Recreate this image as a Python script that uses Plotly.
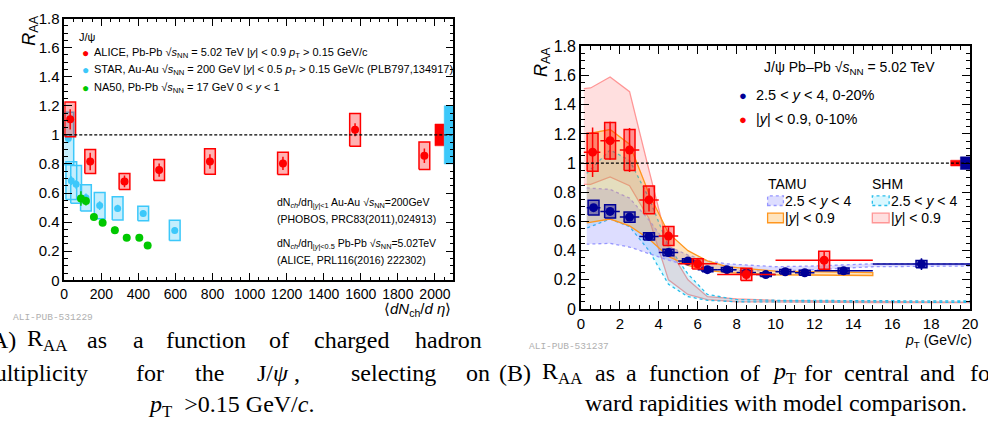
import plotly.graph_objects as go

W, H = 988, 435
SANS = "Liberation Sans"
SERIF = "Liberation Serif"


def px(x):
    return x / W


def py(y):
    return 1 - y / H


# ---------------- Left panel: R_AA vs <dNch/deta> ----------------
alice_nch = [32, 140, 325, 512, 786, 1180, 1569, 1943]
alice_raa = [1.107, 0.817, 0.68, 0.758, 0.817, 0.804, 1.035, 0.857]
alice_stat = [0.07, 0.06, 0.04, 0.045, 0.05, 0.045, 0.045, 0.05]
alice_sys = [0.12, 0.083, 0.055, 0.072, 0.087, 0.076, 0.113, 0.095]

star_nch = [22, 38, 64, 117, 191, 288, 426, 596]
star_raa = [0.975, 0.685, 0.66, 0.567, 0.514, 0.494, 0.46, 0.343]
star_stat = [0.03, 0.03, 0.03, 0.03, 0.03, 0.025, 0.02, 0.02]
star_sys = [0.18, 0.13, 0.13, 0.09, 0.09, 0.08, 0.05, 0.07]

na50_nch = [90, 117, 160, 207, 273, 337, 405, 450]
na50_raa = [0.563, 0.545, 0.435, 0.395, 0.345, 0.292, 0.292, 0.24]
na50_stat = [0.05, 0.03, 0.015, 0.015, 0.025, 0.015, 0.015, 0.015]

glob_left_lo = [2000, 2050]
glob_left_hi = [2050, 2100]
glob_left_unc = [0.075, 0.2]

# ---------------- Right panel: R_AA vs pT ----------------
fwd_pt = [0.65, 1.5, 2.5, 3.5, 4.5, 5.5, 6.5, 7.5, 8.5, 9.5, 10.5, 11.5, 13.5, 17.5]
fwd_lo = [0.3, 1, 2, 3, 4, 5, 6, 7, 8, 9, 10, 11, 12, 15]
fwd_hi = [1, 2, 3, 4, 5, 6, 7, 8, 9, 10, 11, 12, 15, 20]
fwd_raa = [0.695, 0.669, 0.63, 0.498, 0.387, 0.33, 0.27, 0.27, 0.25, 0.236, 0.256, 0.249, 0.262, 0.308]
fwd_stat = [0.02, 0.015, 0.015, 0.01, 0.01, 0.01, 0.01, 0.01, 0.01, 0.012, 0.012, 0.015, 0.02, 0.04]
fwd_sys = [0.05, 0.045, 0.035, 0.025, 0.022, 0.015, 0.015, 0.015, 0.015, 0.013, 0.015, 0.017, 0.02, 0.025]

mid_pt = [0.6, 1.5, 2.5, 3.5, 4.5, 6.0, 8.5, 12.5]
mid_lo = [0.15, 1, 2, 3, 4, 5, 7, 10]
mid_hi = [1, 2, 3, 4, 5, 7, 10, 15]
mid_raa = [1.075, 1.154, 1.09, 0.748, 0.5, 0.31, 0.237, 0.334]
mid_stat = [0.17, 0.13, 0.15, 0.08, 0.06, 0.03, 0.04, 0.06]
mid_sys = [0.13, 0.125, 0.14, 0.095, 0.065, 0.035, 0.042, 0.062]

glob_right_lo = [19.0, 19.5]
glob_right_hi = [19.5, 20.0]
glob_right_unc = [0.02, 0.043]

shm_mid_pt = [0.15, 0.5, 1.5, 2.5, 3.5, 4.5, 5.5, 6.5, 8, 10, 15, 20]
shm_mid_up = [1.51, 1.515, 1.59, 1.49, 0.95, 0.42, 0.2, 0.085, 0.07, 0.06, 0.052, 0.05]
shm_mid_dn = [0.855, 0.855, 0.905, 0.845, 0.62, 0.2, 0.1, 0.065, 0.05, 0.045, 0.045, 0.045]

shm_fwd_pt = [0.3, 1.5, 2.5, 3.5, 4.5, 5.5, 6.5, 8, 10, 15, 20]
shm_fwd_up = [0.93, 1.09, 1.02, 0.76, 0.43, 0.24, 0.1, 0.065, 0.06, 0.055, 0.055]
shm_fwd_dn = [0.555, 0.617, 0.565, 0.4, 0.17, 0.085, 0.06, 0.05, 0.045, 0.045, 0.045]

tamu_fwd_pt = [0.3, 1.5, 2.5, 3.5, 4.5, 5.5, 6.5, 7.5, 10, 12, 15, 20]
tamu_fwd_up = [0.83, 0.82, 0.76, 0.61, 0.43, 0.37, 0.33, 0.31, 0.29, 0.295, 0.31, 0.31]
tamu_fwd_dn = [0.445, 0.45, 0.425, 0.38, 0.335, 0.3, 0.275, 0.265, 0.26, 0.27, 0.29, 0.295]

tamu_mid_pt = [0.3, 1.5, 2.5, 3.5, 4.5, 5.5, 6.5, 7.5, 10, 15]
tamu_mid_up = [1.2, 1.23, 1.13, 0.79, 0.52, 0.4, 0.33, 0.29, 0.26, 0.25]
tamu_mid_dn = [0.59, 0.617, 0.57, 0.48, 0.36, 0.3, 0.265, 0.25, 0.235, 0.23]

UNITY = 1.0

# style constants
BOX_HW_LEFT = 29
BOX_HW_RIGHT = 0.28
RED = "#ff0000"
SKY = "rgb(60,200,250)"
GREEN = "rgb(0,200,0)"
NAVY = "rgb(0,0,150)"


def box_path(xc, yc, hw, hh):
    xs, ys = [], []
    for x, y, h in zip(xc, yc, hh):
        xs += [x - hw, x + hw, x + hw, x - hw, x - hw, None]
        ys += [y - h, y - h, y + h, y + h, y - h, None]
    return xs, ys


def rect_path(x0s, x1s, unc):
    xs, ys = [], []
    for a, b, u in zip(x0s, x1s, unc):
        xs += [a, b, b, a, a, None]
        ys += [UNITY - u, UNITY - u, UNITY + u, UNITY + u, UNITY - u, None]
    return xs, ys


def band(x, up, dn):
    return list(x) + list(x)[::-1], list(up) + list(dn)[::-1]


fig = go.Figure()

# ---- left panel traces ----
bx, by = box_path(star_nch, star_raa, BOX_HW_LEFT, star_sys)
fig.add_trace(go.Scatter(x=bx, y=by, mode="lines", fill="toself", fillcolor="rgba(60,200,250,0.3)",
                         line=dict(color=SKY, width=1.5), xaxis="x", yaxis="y", hoverinfo="skip"))
fig.add_trace(go.Scatter(x=star_nch, y=star_raa, mode="markers", marker=dict(color=SKY, size=7),
                         error_y=dict(type="data", array=star_stat, color=SKY, thickness=1.5, width=0),
                         xaxis="x", yaxis="y"))
fig.add_trace(go.Scatter(x=na50_nch, y=na50_raa, mode="markers", marker=dict(color=GREEN, size=8),
                         error_y=dict(type="data", array=na50_stat, color=GREEN, thickness=1.5, width=0),
                         xaxis="x", yaxis="y"))
bx, by = box_path(alice_nch, alice_raa, BOX_HW_LEFT, alice_sys)
fig.add_trace(go.Scatter(x=bx, y=by, mode="lines", fill="toself", fillcolor="rgba(255,0,0,0.3)",
                         line=dict(color=RED, width=1.5), xaxis="x", yaxis="y", hoverinfo="skip"))
fig.add_trace(go.Scatter(x=alice_nch, y=alice_raa, mode="markers", marker=dict(color=RED, size=8),
                         error_y=dict(type="data", array=alice_stat, color=RED, thickness=1.5, width=0),
                         xaxis="x", yaxis="y"))
for i, col in enumerate([RED, SKY]):
    gx, gy = rect_path(glob_left_lo[i:i + 1], glob_left_hi[i:i + 1], glob_left_unc[i:i + 1])
    fig.add_trace(go.Scatter(x=gx, y=gy, mode="lines", fill="toself", fillcolor=col,
                             line=dict(color=col, width=0.5), xaxis="x", yaxis="y"))

# ---- right panel traces ----
bands = [
    (shm_mid_pt, shm_mid_up, shm_mid_dn, "rgba(255,150,150,0.3)", "rgb(255,150,150)", "solid"),
    (shm_fwd_pt, shm_fwd_up, shm_fwd_dn, "rgba(0,200,255,0.15)", "rgb(40,190,235)", "dot"),
    (tamu_fwd_pt, tamu_fwd_up, tamu_fwd_dn, "rgba(120,120,255,0.25)", "rgb(150,150,255)", "dot"),
    (tamu_mid_pt, tamu_mid_up, tamu_mid_dn, "rgba(255,165,40,0.3)", "rgb(255,150,30)", "solid"),
]
for xs, up, dn, fc, lc, dash in bands:
    bxs, bys = band(xs, up, dn)
    fig.add_trace(go.Scatter(x=bxs, y=bys, mode="lines", fill="toself", fillcolor=fc,
                             line=dict(color=lc, width=1.3, dash=dash), xaxis="x2", yaxis="y2"))

for i, col in enumerate([RED, NAVY]):
    gx, gy = rect_path(glob_right_lo[i:i + 1], glob_right_hi[i:i + 1], glob_right_unc[i:i + 1])
    fig.add_trace(go.Scatter(x=gx, y=gy, mode="lines", fill="toself", fillcolor=col,
                             line=dict(color=col, width=0.5), xaxis="x2", yaxis="y2"))

bx, by = box_path(fwd_pt, fwd_raa, BOX_HW_RIGHT, fwd_sys)
fig.add_trace(go.Scatter(x=bx, y=by, mode="lines", fill="toself", fillcolor="rgba(0,0,150,0.4)",
                         line=dict(color=NAVY, width=1.5), xaxis="x2", yaxis="y2"))
fig.add_trace(go.Scatter(x=fwd_pt, y=fwd_raa, mode="markers", marker=dict(color=NAVY, size=9),
                         error_y=dict(type="data", array=fwd_stat, color=NAVY, thickness=1.5, width=0),
                         error_x=dict(type="data", array=[h - p for h, p in zip(fwd_hi, fwd_pt)],
                                      arrayminus=[p - l for p, l in zip(fwd_pt, fwd_lo)],
                                      color=NAVY, thickness=1.5, width=0),
                         xaxis="x2", yaxis="y2"))
bx, by = box_path(mid_pt, mid_raa, BOX_HW_RIGHT, mid_sys)
fig.add_trace(go.Scatter(x=bx, y=by, mode="lines", fill="toself", fillcolor="rgba(255,0,0,0.35)",
                         line=dict(color=RED, width=1.5), xaxis="x2", yaxis="y2"))
fig.add_trace(go.Scatter(x=mid_pt, y=mid_raa, mode="markers", marker=dict(color=RED, size=9),
                         error_y=dict(type="data", array=mid_stat, color=RED, thickness=1.5, width=0),
                         error_x=dict(type="data", array=[h - p for h, p in zip(mid_hi, mid_pt)],
                                      arrayminus=[p - l for p, l in zip(mid_pt, mid_lo)],
                                      color=RED, thickness=1.5, width=0),
                         xaxis="x2", yaxis="y2"))


# ---- axes ----
def axis(domain, rng, dtick, mdtick, size, anchor):
    return dict(domain=domain, range=rng, autorange=False, dtick=dtick, tick0=0,
                showline=True, linecolor="black", linewidth=1.5, mirror="allticks",
                ticks="inside", ticklen=8, tickwidth=1.3, tickcolor="black",
                showgrid=False, zeroline=False, anchor=anchor,
                tickfont=dict(family=SANS, size=size, color="black"),
                minor=dict(ticks="inside", ticklen=4, tickwidth=1.2, tickcolor="black",
                           dtick=mdtick, showgrid=False))


fig.update_layout(
    width=W, height=H, margin=dict(l=0, r=0, t=0, b=0),
    paper_bgcolor="white", plot_bgcolor="white", showlegend=False,
    xaxis=axis([px(61), px(455)], [0, 2100], 200, 50, 14, "y"),
    yaxis=axis([py(283), py(10)], [0, 1.8], 0.2, 0.05, 15, "x"),
    xaxis2=axis([px(584), px(978)], [0, 20], 2, 0.5, 15, "y2"),
    yaxis2=axis([py(313), py(39)], [0, 1.8], 0.2, 0.05, 16, "x2"),
)

fig.add_shape(type="line", xref="x domain", yref="y", x0=0, x1=1, y0=UNITY, y1=UNITY,
              line=dict(color="black", width=1.2, dash="3px,2px"))
fig.add_shape(type="line", xref="x2 domain", yref="y2", x0=0, x1=1, y0=UNITY, y1=UNITY,
              line=dict(color="black", width=1.2, dash="3px,2px"))

annotations = []


def ann(text, x, y, size, xanchor="left", color="black", family=SANS, **kw):
    annotations.append(dict(text=text, x=px(x), y=py(y), xref="paper", yref="paper",
                            xanchor=xanchor, yanchor="middle", showarrow=False,
                            font=dict(family=family, size=size, color=color), **kw))


# axis titles
ann("<i>R</i><sub>AA</sub>", 26, 23, 18, xanchor="center", textangle=-90)
ann("<i>R</i><sub>AA</sub>", 545, 55, 18, xanchor="center", textangle=-90)
ann("⟨<i>dN</i><sub>ch</sub>/<i>d η</i>⟩", 455, 313, 15, xanchor="right")
ann("<i>p</i><sub>T</sub> (GeV/c)", 982, 346, 14, xanchor="right")

# left legend
ann("J/ψ", 74, 29, 11)
ann("●", 82, 46, 12, xanchor="center", color=RED)
ann("●", 82, 64, 12, xanchor="center", color=SKY)
ann("●", 82, 82, 12, xanchor="center", color=GREEN)
ann("ALICE, Pb-Pb √<i>s</i><sub>NN</sub> = 5.02 TeV |<i>y</i>| &lt; 0.9 <i>p</i><sub>T</sub> &gt; 0.15 GeV/c", 89, 46, 11)
ann("STAR, Au-Au √<i>s</i><sub>NN</sub> = 200 GeV |<i>y</i>| &lt; 0.5 <i>p</i><sub>T</sub> &gt; 0.15 GeV/c (PLB797,134917)", 89, 64, 11)
ann("NA50, Pb-Pb √<i>s</i><sub>NN</sub> = 17 GeV 0 &lt; <i>y</i> &lt; 1", 89, 82, 11)

ann("dN<sub><i>ch</i></sub>/dη<sub>|<i>y</i>|&lt;1</sub> Au-Au √<i>s</i><sub>NN</sub>=200GeV", 274, 202, 10.5)
ann("(PHOBOS, PRC83(2011),024913)", 274, 219, 10.5)
ann("dN<sub><i>ch</i></sub>/dη<sub>|<i>y</i>|&lt;0.5</sub> Pb-Pb √<i>s</i><sub>NN</sub>=5.02TeV", 274, 245, 10.5)
ann("(ALICE, PRL116(2016) 222302)", 274, 262, 10.5)

# right legend
ann("J/ψ Pb–Pb √<i>s</i><sub>NN</sub> = 5.02 TeV", 767, 62, 14)
ann("●", 748, 90, 13, xanchor="center", color=NAVY)
ann("●", 748, 115, 13, xanchor="center", color=RED)
ann("2.5 &lt; <i>y</i> &lt; 4, 0-20%", 759, 90, 14.5)
ann("|<i>y</i>| &lt; 0.9, 0-10%", 759, 115, 14.5)
ann("TAMU", 771, 183, 14)
ann("SHM", 877, 183, 14)
ann("2.5 &lt; <i>y</i> &lt; 4", 789, 200, 14)
ann("|<i>y</i>| &lt; 0.9", 789, 218, 14)
ann("2.5 &lt; <i>y</i> &lt; 4", 896, 200, 14)
ann("|<i>y</i>| &lt; 0.9", 896, 218, 14)

legend_boxes = [
    (773, 789, 195, 205, "rgba(120,120,255,0.25)", "rgb(150,150,255)", "dot"),
    (773, 789, 213, 223, "rgba(255,165,40,0.3)", "rgb(255,150,30)", "solid"),
    (879, 896, 195, 205, "rgba(0,200,255,0.15)", "rgb(40,190,235)", "dot"),
    (879, 896, 213, 223, "rgba(255,150,150,0.3)", "rgb(255,150,150)", "solid"),
]
for x0, x1, y0, y1, fc, lc, dash in legend_boxes:
    fig.add_shape(type="rect", xref="paper", yref="paper", x0=px(x0), x1=px(x1), y0=py(y1), y1=py(y0),
                  fillcolor=fc, line=dict(color=lc, width=1.3, dash=dash))

# watermarks
ann("ALI-PUB-531229", 7, 322, 9.5, color="#b0b0b0", family="Liberation Mono")
ann("ALI-PUB-531237", 529, 352, 9.5, color="#b0b0b0", family="Liberation Mono")

# captions (justified text, placed word by word)
CAP = 24
line1 = [("(A)", 14, "right"), ("R<sub>AA</sub>", 21, "left"), ("as", 82, "left"), ("a", 129, "left"),
         ("function", 162, "left"), ("of", 266, "left"), ("charged", 312, "left"), ("hadron", 414, "left")]
line2 = [("multiplicity", 87, "right"), ("for", 132, "left"), ("the", 191, "left"),
         ("J/<i>ψ</i> ,", 254, "left"), ("selecting", 349, "left"), ("on", 466, "left")]
line2b = [("(B)", 499), ("R<sub>AA</sub>", 543), ("as", 596), ("a", 628), ("function", 651),
          ("of", 743), ("<i>p</i><sub>T</sub>", 775), ("for", 808), ("central", 848),
          ("and", 925), ("forward", 976)]
for t, x, a in line1:
    ann(t, x, 345, CAP, xanchor=a, family=SERIF)
for t, x, a in line2:
    ann(t, x, 380, CAP, xanchor=a, family=SERIF)
for t, x in line2b:
    ann(t, x, 380, CAP, family=SERIF)
ann("<i>p</i><sub>T</sub>  &gt;0.15 GeV/<i>c</i>.", 144, 414, CAP, family=SERIF)
ann("ward rapidities with model comparison.", 586, 411, CAP, family=SERIF)

fig.update_layout(annotations=annotations)
fig.write_html("out.html")
